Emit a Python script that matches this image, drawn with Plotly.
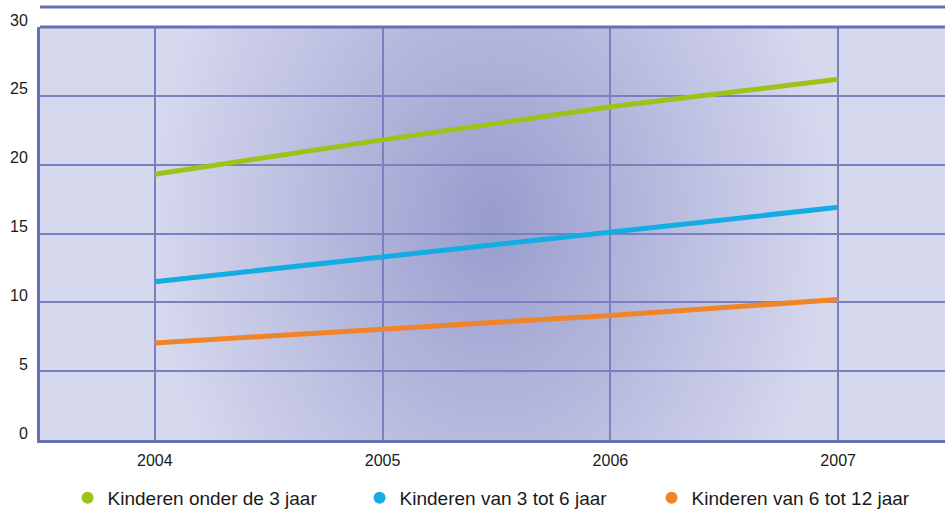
import base64
import plotly.graph_objects as go

years = [2004, 2005, 2006, 2007]
onder_3 = [19.3, 21.8, 24.2, 26.2]
van_3_tot_6 = [11.5, 13.3, 15.1, 16.9]
van_6_tot_12 = [7.05, 8.05, 9.05, 10.2]

series_names = ["Kinderen onder de 3 jaar", "Kinderen van 3 tot 6 jaar", "Kinderen van 6 tot 12 jaar"]
series_values = [onder_3, van_3_tot_6, van_6_tot_12]
series_colors = ["#9dc31a", "#13ade4", "#f08428"]

y_ticks = [0, 5, 10, 15, 20, 25, 30]

W, H = 945, 509
ML, MR, MT, MB = 40, 0, 27, 69
PW, PH = W - ML - MR, H - MT - MB

svg = f'''<svg xmlns="http://www.w3.org/2000/svg" width="{PW}" height="{PH}" viewBox="0 0 {PW} {PH}" preserveAspectRatio="none">
<defs><radialGradient id="g" gradientUnits="userSpaceOnUse" cx="0" cy="0" r="340" gradientTransform="translate(452 192) scale(1 1.3)">
<stop offset="0" stop-color="#989ccd"/><stop offset="1" stop-color="#d6d8ee"/></radialGradient></defs>
<rect x="0" y="0" width="{PW}" height="{PH}" fill="url(#g)"/></svg>'''
svg_uri = "data:image/svg+xml;base64," + base64.b64encode(svg.encode()).decode()

fig = go.Figure()
for name, vals, col in zip(series_names, series_values, series_colors):
    fig.add_trace(go.Scatter(x=years, y=vals, mode="lines", line=dict(color=col, width=5),
                             showlegend=False, legendgroup=name, hoverinfo="skip"))
for name, col in zip(series_names, series_colors):
    fig.add_trace(go.Scatter(x=[None], y=[None], mode="markers", name=name,
                             marker=dict(color=col, size=12, symbol="circle"), legendgroup=name))

grid_col = "#7880c0"
axis_col = "#6670b5"
font_fam = "Liberation Sans, Arial, sans-serif"

fig.update_layout(
    width=W, height=H,
    margin=dict(l=ML, r=MR, t=MT, b=MB),
    paper_bgcolor="white", plot_bgcolor="#d6d8ee",
    font=dict(family=font_fam, color="#1a1a1a", size=16),
    xaxis=dict(range=[2003.496, 2007.469], tickvals=years, ticktext=[str(y) for y in years],
               showgrid=True, gridcolor=grid_col, gridwidth=2, zeroline=False,
               showline=True, linecolor=axis_col, linewidth=3, ticks="", automargin=False,
               tickfont=dict(size=16), ticklabelstandoff=4),
    yaxis=dict(range=[0, 30], tickvals=y_ticks, showgrid=True, gridcolor=grid_col, gridwidth=2,
               zeroline=False, showline=True, linecolor=axis_col, linewidth=3, ticks="",
               automargin=False, tickfont=dict(size=16), ticklabelshift=-7, ticklabelstandoff=6),
    legend=dict(orientation="h", xref="container", yref="container", x=0.0715, y=0.059,
                xanchor="left", yanchor="top", font=dict(size=19, family=font_fam),
                entrywidth=247, entrywidthmode="pixels", bgcolor="rgba(0,0,0,0)",
                itemclick=False, itemdoubleclick=False),
    images=[dict(source=svg_uri, xref="paper", yref="paper", x=0, y=1, sizex=1, sizey=1,
                 xanchor="left", yanchor="top", sizing="stretch", layer="below")],
    shapes=[
        dict(type="line", xref="paper", yref="paper", x0=0, x1=1, y0=1, y1=1,
             line=dict(color=axis_col, width=3)),
        dict(type="line", xref="paper", yref="paper", x0=0, x1=1, y0=1 + 20 / PH, y1=1 + 20 / PH,
             line=dict(color=axis_col, width=3)),
    ],
)

fig.write_html("out.html", config={"displayModeBar": False},
               post_script="document.body.style.margin='0';document.body.style.overflow='hidden';")
